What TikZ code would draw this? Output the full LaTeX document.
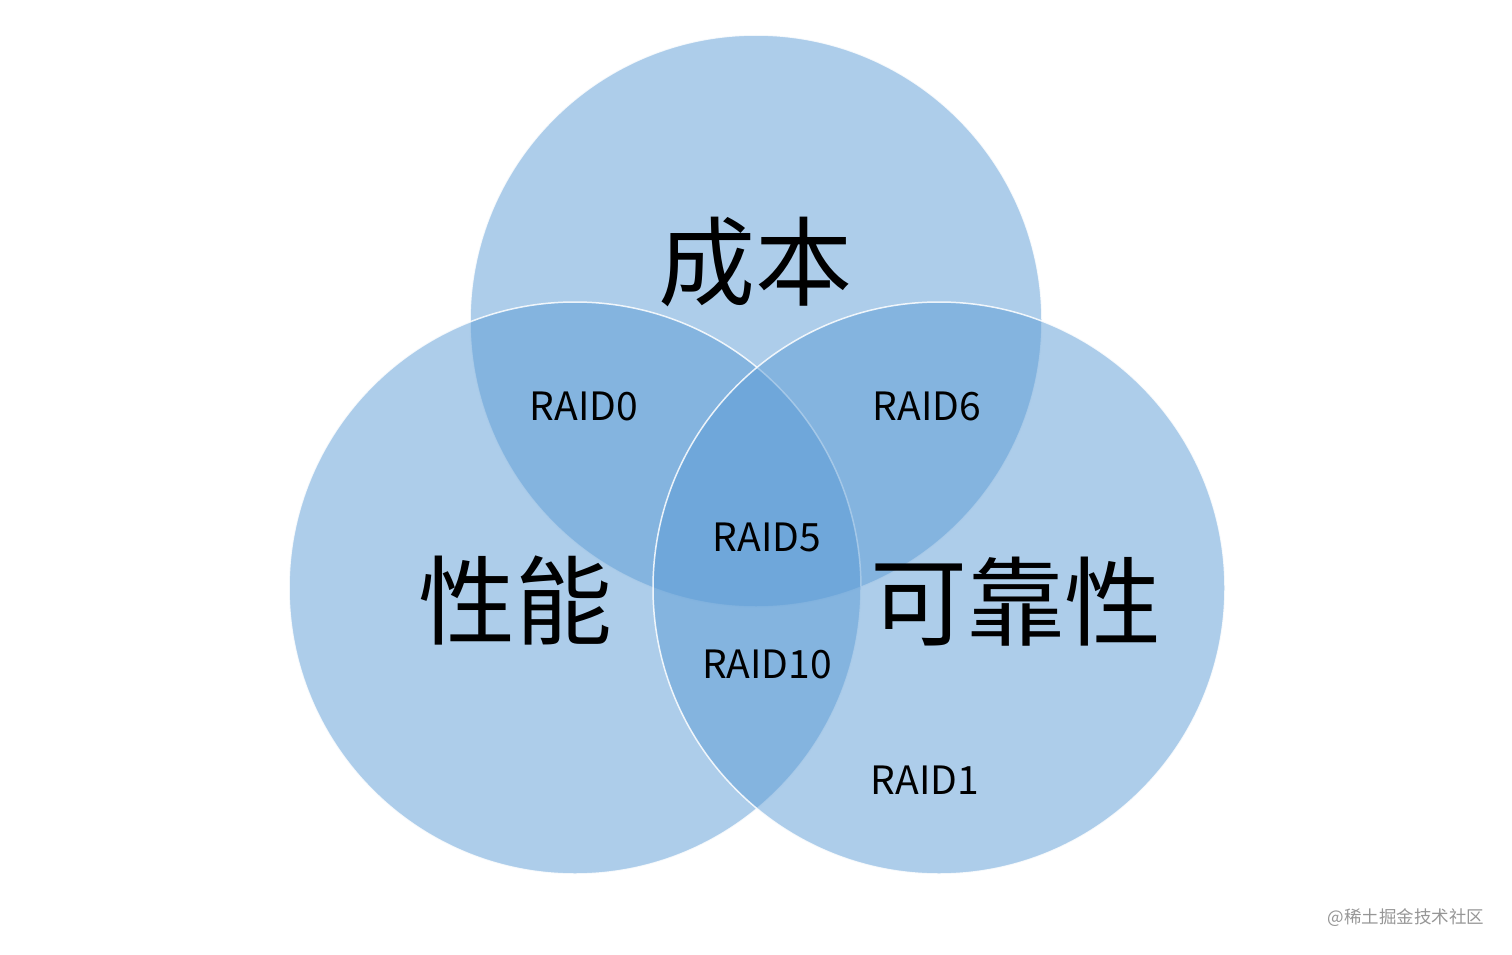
\documentclass[tikz,border=0pt]{standalone}
\usepackage{fontspec}
\setmainfont{Noto Sans CJK SC}
\definecolor{officeblue}{RGB}{91,155,213}
\definecolor{markgray}{RGB}{150,150,150}
\usetikzlibrary{shapes,arrows}

\begin{document}
\begin{tikzpicture}[x=1pt, y=-1pt,
			kreis/.style={circle, minimum size=572pt, inner sep=0pt, fill=officeblue, fill opacity=0.5,
				draw=white, draw opacity=0.85, line width=1.5pt},
			gross/.style={font=\fontsize{97}{97}\selectfont, text=black},
			raid/.style={font=\fontsize{39}{39}\selectfont, text=black}]
			%Bildbereich
			\useasboundingbox (0,0) rectangle (1512,955);
			% Kreise zeichnen
			\node[kreis] (kosten) at (756,321) {};
			\node[kreis] (leistung) at (575,588) {};
			\node[kreis] (sicher) at (939,588) {};
			% Beschriftung
			\node[gross] (tkosten) at (755,262) {成本};
			\node[gross] (tleistung) at (515,600) {性能};
			\node[gross] (tsicher) at (1016,602) {可靠性};
			\node[raid] (r0) at (584,406) {RAID0};
			\node[raid] (r6) at (927,406) {RAID6};
			\node[raid] (r5) at (767,537) {RAID5};
			\node[raid] (r10) at (767,664) {RAID10};
			\node[raid] (r1) at (925,780) {RAID1};
			%Wasserzeichen
			\node[text=markgray, font=\fontsize{17.5}{17.5}\selectfont, anchor=east] (zeichen) at (1488,918) {@稀土掘金技术社区};
		\end{tikzpicture}
\end{document}
